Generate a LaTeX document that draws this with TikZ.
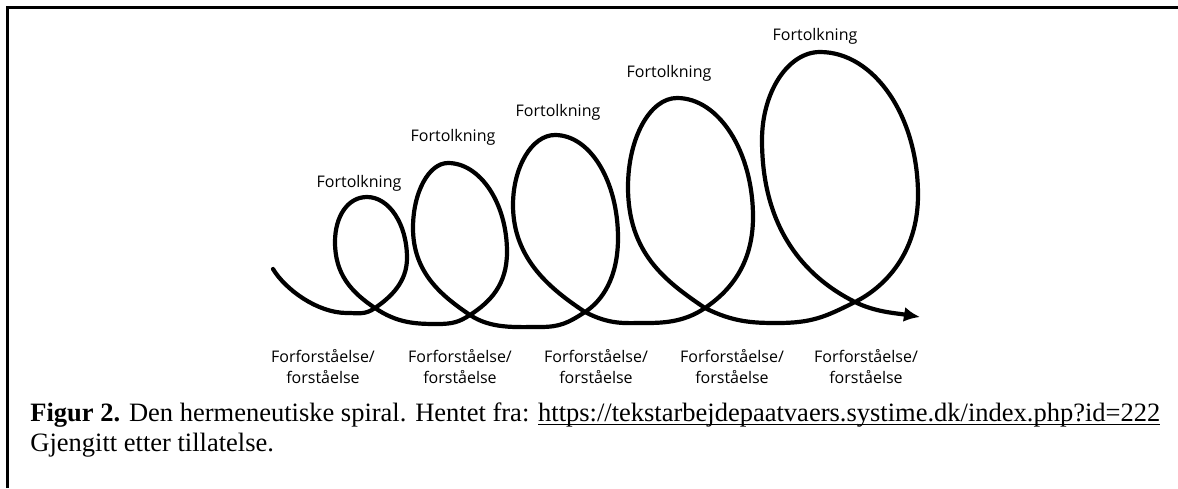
\documentclass[tikz,border=0pt]{standalone}
\usepackage{fontspec}
\setmainfont{Liberation Serif}
\newfontfamily\lblfont{Open Sans}
\usetikzlibrary{arrows.meta}
\definecolor{Ink}{RGB}{0,0,0}
\newcommand{\linkul}[1]{\setbox0=\hbox{#1}\makebox[0pt][l]{\rule[-2.2pt]{\wd0}{0.9pt}}\box0}
\tikzset{
  >=Latex,
  frame/.style={draw=Ink,line width=1.5pt},
  spiral/.style={draw=Ink,line width=2.1pt,line cap=round,-{Latex[length=8pt,width=7.5pt]}},
  upper/.style={font=\lblfont\fontsize{8}{10}\selectfont,text=Ink,inner sep=0pt},
  lower/.style={font=\lblfont\fontsize{8}{10.5}\selectfont,text=Ink,align=center,inner sep=0pt},
  caption/.style={font=\fontsize{13.25}{15}\selectfont,text=Ink,anchor=base west,inner sep=0pt}
}
\begin{document}
\begin{tikzpicture}[x=0.5pt,y=-0.5pt]
  \useasboundingbox (0,0) rectangle (1178,488);
  \draw[frame] (7,488)--(7,7)--(1178,7);
  % crossing points of the loops
  \coordinate (c1) at (375,308);
  \coordinate (c2) at (470,315);
  \coordinate (c3) at (585,312);
  \coordinate (c4) at (705,308);
  \coordinate (c5) at (855,302);
  \coordinate (start) at (273,269);
  \coordinate (tip) at (920,317);
  % spiral, left to right
  \draw[spiral] (start) .. controls (285,289) and (317,313) .. (347,313)
    .. controls (359,313) and (365,315) .. (c1)
    % loop 1
    .. controls (391,297) and (407,282) .. (407,258)
    .. controls (407,224) and (389,197) .. (367,197)
    .. controls (348,197) and (335,216) .. (335,242)
    .. controls (335,274) and (351,292) .. (c1)
    .. controls (397,323) and (415,324) .. (437,324)
    .. controls (453,324) and (459,322) .. (c2)
    % loop 2
    .. controls (490,302) and (507,285) .. (507,252)
    .. controls (507,203) and (480,163) .. (448,163)
    .. controls (429,163) and (413,192) .. (413,228)
    .. controls (413,273) and (442,296) .. (c2)
    .. controls (491,329) and (515,327) .. (540,327)
    .. controls (560,327) and (568,323) .. (c3)
    % loop 3
    .. controls (602,301) and (618,278) .. (618,238)
    .. controls (618,181) and (590,135) .. (555,135)
    .. controls (532,135) and (513,167) .. (513,205)
    .. controls (513,260) and (552,290) .. (c3)
    .. controls (610,325) and (625,323) .. (643,323)
    .. controls (661,323) and (683,323) .. (c4)
    % loop 4
    .. controls (727,293) and (753,267) .. (753,217)
    .. controls (753,152) and (719,98) .. (677,98)
    .. controls (650,98) and (628,138) .. (628,187)
    .. controls (628,253) and (665,281) .. (c4)
    .. controls (733,322) and (752,323) .. (777,323)
    .. controls (812,323) and (825,317) .. (c5)
    % loop 5
    .. controls (885,287) and (918,253) .. (918,195)
    .. controls (918,116) and (874,52) .. (820,52)
    .. controls (788,52) and (762,92) .. (762,140)
    .. controls (762,229) and (805,277) .. (c5)
    .. controls (875,312) and (895,313) .. (tip);
  \node[upper] (fort1) at (359,183) {Fortolkning};
  \node[upper] (fort2) at (453,137) {Fortolkning};
  \node[upper] (fort3) at (558,112) {Fortolkning};
  \node[upper] (fort4) at (669,73) {Fortolkning};
  \node[upper] (fort5) at (815,36) {Fortolkning};
  \node[lower] (forf1) at (323,367) {Forforståelse/\\forståelse};
  \node[lower] (forf2) at (460,367) {Forforståelse/\\forståelse};
  \node[lower] (forf3) at (596,367) {Forforståelse/\\forståelse};
  \node[lower] (forf4) at (732,367) {Forforståelse/\\forståelse};
  \node[lower] (forf5) at (866,367) {Forforståelse/\\forståelse};
  \node[caption] (cap1) at (30,421) {\textbf{Figur 2.} Den hermeneutiske spiral. Hentet fra: \linkul{https://tekstarbejdepaatvaers.systime.dk/index.php?id=222}};
  \node[caption] (cap2) at (30,451) {Gjengitt etter tillatelse.};
\end{tikzpicture}
\end{document}
